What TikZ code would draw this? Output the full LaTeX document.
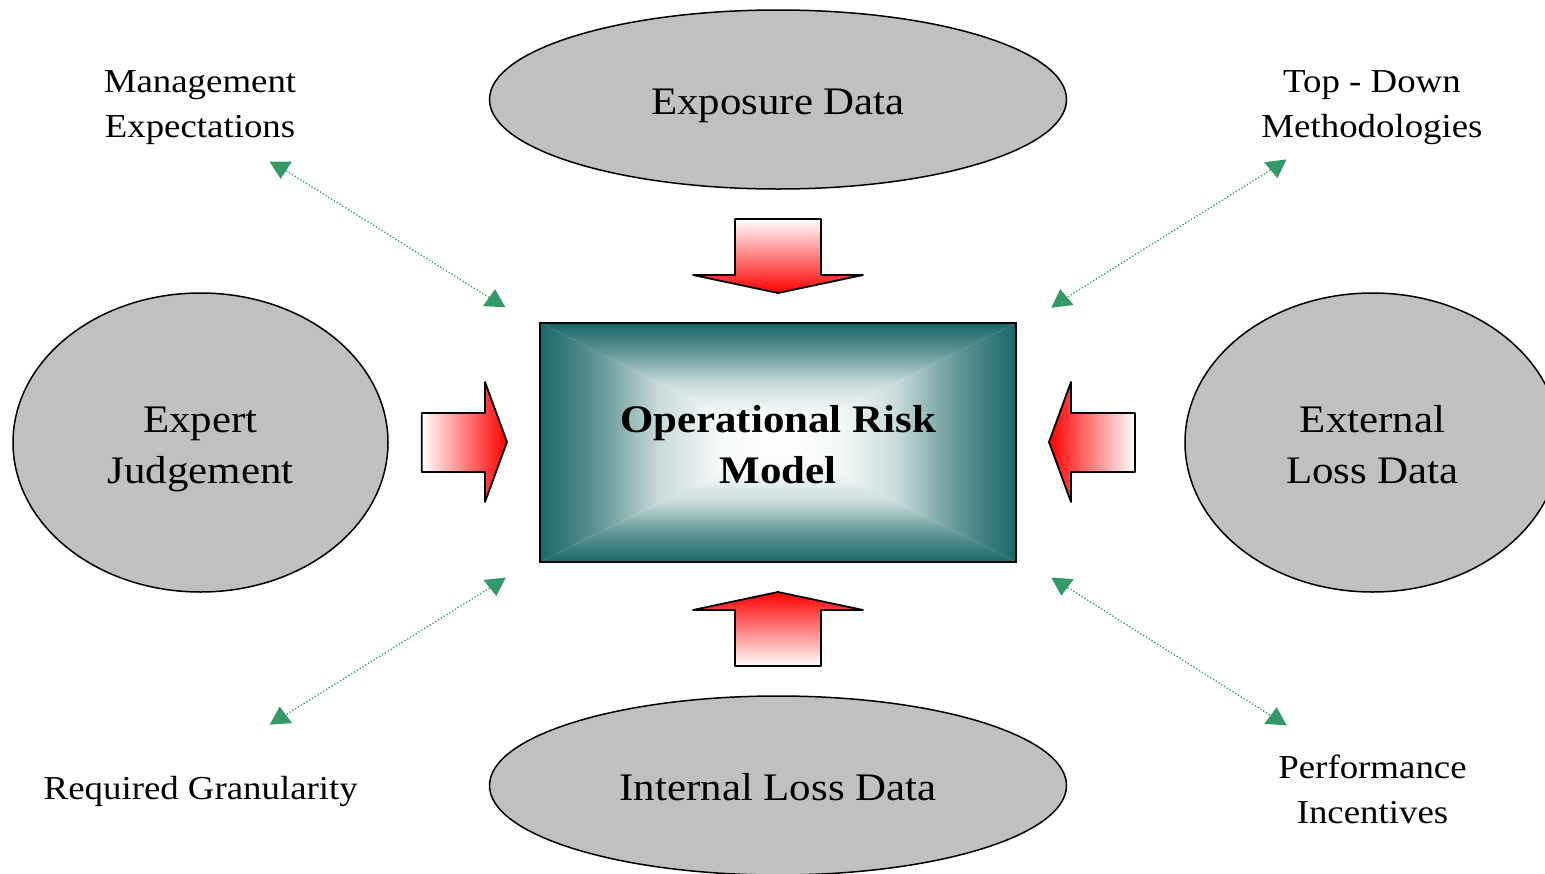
\documentclass[tikz,border=0pt]{standalone}
\usepackage{fontspec}
\setmainfont{Liberation Serif}[FakeStretch=1.1]
\usetikzlibrary{shapes.geometric}

\definecolor{blobgray}{RGB}{192,192,192}
\definecolor{deepteal}{RGB}{26,102,102}
\definecolor{linkgreen}{RGB}{51,153,102}
\definecolor{arrowred}{RGB}{255,0,0}

% fade from the box edge (top) towards its centre (bottom)
\pgfdeclareverticalshading{edgefade}{100bp}{%
  color(0bp)=(white); color(25bp)=(white);
  color(37.5bp)=(deepteal!4!white); color(50bp)=(deepteal!24!white);
  color(62.5bp)=(deepteal!68!white); color(75bp)=(deepteal); color(100bp)=(deepteal)}

% centred lines whose baseline is that of the first line
\newcommand\linesof[1]{\begin{tabular}[t]{@{}c@{}}#1\end{tabular}}

\begin{document}
\begin{tikzpicture}[x=1pt,y=-1pt,
  blob/.style={ellipse, draw=black, line width=1.5pt, fill=blobgray, inner sep=0pt},
  blobtext/.style={anchor=base, inner sep=0pt, font=\fontsize{39}{51}\selectfont},
  sidelabel/.style={anchor=base, inner sep=0pt, font=\fontsize{33.5}{45}\selectfont},
  feed/.style={draw=black, line width=1.8pt, line join=round},
  link/.style={draw=linkgreen, line width=1.3pt, dash pattern=on 1.3pt off 2pt},
  headdn/.pic={\fill[linkgreen] (-11.25,-5.8) -- (11.25,-5.8) -- (0,11.6) -- cycle;},
  headup/.pic={\fill[linkgreen] (-11.25,5.8) -- (11.25,5.8) -- (0,-11.6) -- cycle;},
]
\useasboundingbox (0,0) rectangle (1545,873);
\clip (0,0) rectangle (1545,873);

% data sources
\node[blob, minimum width=577pt, minimum height=179pt] (exposure) at (778,99.5) {};
\node[blob, minimum width=577pt, minimum height=179pt] (internal) at (778,785.5) {};
\node[blob, minimum width=375pt, minimum height=299pt] (expert) at (200.5,442.5) {};
\node[blob, minimum width=375pt, minimum height=299pt] (external) at (1372.5,442.5) {};

\node[blobtext] (exposure-t) at (778,114) {Exposure Data};
\node[blobtext] (internal-t) at (778,800) {Internal Loss Data};
\node[blobtext] (expert-t) at (200.5,432) {\linesof{Expert\\Judgement}};
\node[blobtext] (external-t) at (1372.5,432) {\linesof{External\\Loss Data}};

% the model box with its rectangular gradient
\node[minimum width=476pt, minimum height=239pt, inner sep=0pt] (model) at (778,442.5) {};
\shade[shading=edgefade, shading angle=0]   (model.north west) -- (model.north east) -- (model.center) -- cycle;
\shade[shading=edgefade, shading angle=90]  (model.north west) -- (model.south west) -- (model.center) -- cycle;
\shade[shading=edgefade, shading angle=180] (model.south west) -- (model.south east) -- (model.center) -- cycle;
\shade[shading=edgefade, shading angle=270] (model.north east) -- (model.south east) -- (model.center) -- cycle;
\draw[line width=2pt] (model.north west) rectangle (model.south east);
\node[blobtext, font=\fontsize{39}{51.6}\selectfont\bfseries] (model-t) at (778,432) {\linesof{Operational Risk\\Model}};

% block arrows feeding the model
\path[feed, top color=white, bottom color=arrowred]
  (735,219) -- (821,219) -- (821,275) -- (863,275) -- (778,293) -- (693,275) -- (735,275) -- cycle;
\path[feed, top color=arrowred, bottom color=white]
  (735,666) -- (821,666) -- (821,610) -- (863,610) -- (778,592) -- (693,610) -- (735,610) -- cycle;
\path[feed, left color=white, right color=arrowred]
  (421.7,413) -- (485,413) -- (485,382) -- (507,442) -- (485,502) -- (485,472) -- (421.7,472) -- cycle;
\path[feed, left color=arrowred, right color=white]
  (1135,413) -- (1071,413) -- (1071,382) -- (1049,442) -- (1071,502) -- (1071,472) -- (1135,472) -- cycle;

% side considerations
\node[sidelabel] (mgmt) at (200,92) {\linesof{Management\\Expectations}};
\node[sidelabel] (topdown) at (1372,92) {\linesof{Top - Down\\Methodologies}};
\node[sidelabel] (gran) at (200.8,799) {Required Granularity};
\node[sidelabel] (perf) at (1372.5,778) {\linesof{Performance\\Incentives}};

% dotted two-way links
\coordinate (tl-a) at (280.7,167.3);  \coordinate (tl-b) at (494.5,300.9);
\coordinate (tr-a) at (1276,166.6);   \coordinate (tr-b) at (1061.7,300.6);
\coordinate (bl-a) at (495.2,584.5);  \coordinate (bl-b) at (280.5,718.1);
\coordinate (br-a) at (1062.1,584.1); \coordinate (br-b) at (1275.9,718.8);

\draw[link] (tl-a) -- (tl-b);
\draw[link] (tr-a) -- (tr-b);
\draw[link] (bl-a) -- (bl-b);
\draw[link] (br-a) -- (br-b);

\pic[rotate=0] at (tl-a) {headdn};  \pic[rotate=-3] at (tl-b) {headup};
\pic[rotate=7] at (tr-a) {headdn};  \pic[rotate=7] at (tr-b) {headup};
\pic[rotate=6] at (bl-a) {headdn};  \pic[rotate=4] at (bl-b) {headup};
\pic[rotate=-4] at (br-a) {headdn}; \pic[rotate=-4] at (br-b) {headup};
\end{tikzpicture}
\end{document}
